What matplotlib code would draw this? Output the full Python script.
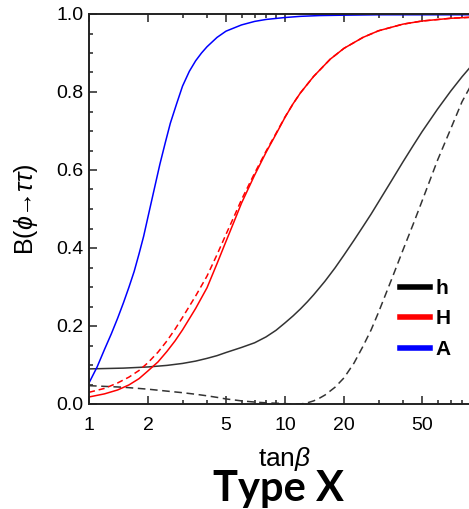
import numpy as np
import matplotlib
matplotlib.use("Agg")
import matplotlib.pyplot as plt
from matplotlib.ticker import FixedLocator, NullFormatter, FixedFormatter, FormatStrFormatter
from matplotlib.lines import Line2D

plt.rcParams['font.family'] = ['Liberation Sans', 'DejaVu Sans']
plt.rcParams['mathtext.fontset'] = 'custom'
plt.rcParams['mathtext.rm'] = 'Liberation Sans'
plt.rcParams['mathtext.it'] = 'Liberation Sans:italic'

# ---- data ----
# h (black): solid and dashed
tanb_h = [1, 1.5, 2, 2.5, 3, 3.5, 4, 4.5, 5, 6, 7, 8, 9, 10, 11, 12, 13, 14, 15, 16,
          18, 20, 22.5, 25, 27.5, 30, 35, 40, 45, 50, 60, 70, 80, 90, 100]
br_h_solid = [0.090, 0.092, 0.095, 0.099, 0.104, 0.110, 0.117, 0.124, 0.132, 0.145,
              0.157, 0.172, 0.189, 0.208, 0.226, 0.244, 0.262, 0.280, 0.298, 0.315,
              0.349, 0.382, 0.420, 0.455, 0.487, 0.518, 0.573, 0.621, 0.662, 0.698,
              0.756, 0.802, 0.839, 0.869, 0.893]
br_h_dash = [0.047, 0.043, 0.038, 0.033, 0.029, 0.025, 0.021, 0.017, 0.013, 0.008,
             0.005, 0.003, 0.002, 0.001, 0.000, 0.000, 0.003, 0.008, 0.015, 0.023,
             0.043, 0.067, 0.105, 0.148, 0.190, 0.235, 0.320, 0.395, 0.460, 0.520,
             0.625, 0.705, 0.775, 0.822, 0.860]

# H (red): solid and dashed
tanb_H = [1, 1.2, 1.4, 1.6, 1.8, 2, 2.25, 2.5, 2.75, 3, 3.5, 4, 4.5, 5, 5.5, 6, 7, 8,
          9, 10, 11, 12, 14, 17, 20, 25, 30, 40, 50, 70, 100]
br_H_solid = [0.018, 0.026, 0.036, 0.049, 0.065, 0.085, 0.108, 0.135, 0.162, 0.190,
              0.245, 0.298, 0.360, 0.417, 0.468, 0.515, 0.587, 0.645, 0.692, 0.735,
              0.770, 0.798, 0.840, 0.884, 0.912, 0.940, 0.957, 0.974, 0.982, 0.989,
              0.993]
br_H_dash = [0.030, 0.040, 0.054, 0.069, 0.086, 0.106, 0.133, 0.162, 0.192, 0.222,
             0.277, 0.328, 0.383, 0.435, 0.481, 0.524, 0.592, 0.648, 0.694, 0.736,
             0.770, 0.798, 0.840, 0.884, 0.912, 0.940, 0.957, 0.974, 0.982, 0.989,
             0.993]

# A (blue)
tanb_A = [1, 1.1, 1.2, 1.3, 1.4, 1.5, 1.6, 1.7, 1.8, 1.9, 2.0, 2.15, 2.3, 2.45, 2.6,
          2.8, 3.0, 3.25, 3.5, 3.75, 4.0, 4.5, 5, 6, 7, 8, 10, 12, 15, 20, 30, 50, 100]
br_A = [0.054, 0.095, 0.140, 0.180, 0.220, 0.260, 0.300, 0.340, 0.385, 0.430,
        0.480, 0.550, 0.615, 0.670, 0.720, 0.770, 0.815, 0.853, 0.880, 0.900,
        0.916, 0.940, 0.956, 0.972, 0.981, 0.986, 0.991, 0.994, 0.996, 0.997,
        0.998, 0.998, 0.998]

legend_labels = ['h', 'H', 'A']
legend_colors = ['black', 'red', 'blue']

x_major = [1, 2, 5, 10, 20, 50, 100]
x_major_labels = ['1', '2', '5', '10', '20', '50', '']
x_minor = [3, 4, 6, 7, 8, 9, 30, 40, 60, 70, 80, 90]

# ---- figure ----
fig = plt.figure(figsize=(4.69, 5.09), dpi=100)
# axes runs past the right edge of the picture (up to tanb = 100)
ax = fig.add_axes([89 / 469, 1 - 404 / 509, 392 / 469, 390 / 509])

lw = 1.1
ax.plot(tanb_h, br_h_solid, color='#333333', lw=lw)
ax.plot(tanb_h, br_h_dash, color='#333333', lw=lw, dashes=(5, 3))
ax.plot(tanb_H, br_H_solid, color='red', lw=lw)
ax.plot(tanb_H, br_H_dash, color='red', lw=lw, dashes=(4, 2.5))
ax.plot(tanb_A, br_A, color='blue', lw=lw)

ax.set_xscale('log')
ax.set_xlim(1, 100)
ax.set_ylim(0, 1)

ax.xaxis.set_major_locator(FixedLocator(x_major))
ax.xaxis.set_major_formatter(FixedFormatter(x_major_labels))
ax.xaxis.set_minor_locator(FixedLocator(x_minor))
ax.xaxis.set_minor_formatter(NullFormatter())
ax.yaxis.set_major_locator(FixedLocator(np.arange(0, 1.01, 0.2)))
ax.yaxis.set_minor_locator(FixedLocator(np.arange(0, 1.01, 0.05)))
ax.yaxis.set_major_formatter(FormatStrFormatter('%.1f'))

ax.tick_params(which='both', direction='in', top=True, right=True,
               color='#222222', width=1.1)
ax.tick_params(which='major', length=5.5, labelsize=14)
ax.tick_params(which='minor', length=2.8)
ax.tick_params(axis='x', which='major', pad=9)
ax.tick_params(axis='y', which='major', pad=4)

for sp in ax.spines.values():
    sp.set_linewidth(1.4)
    sp.set_color('#222222')

ax.set_xlabel(r'tan$\mathit{\beta}$', fontsize=19)
ax.xaxis.set_label_coords(0.5, -0.105)
ax.set_ylabel(r'B($\phi$→$\tau\tau$)', fontsize=18)
ax.yaxis.set_label_coords(-0.125, 0.5)

handles = [Line2D([], [], color=c, lw=4) for c in legend_colors]
ax.legend(handles, legend_labels, loc='center left',
          bbox_to_anchor=((400 - 89) / 392, (404 - 319) / 390),
          frameon=False, borderpad=0, borderaxespad=0, handlelength=1.45,
          handletextpad=0.25, labelspacing=0.55,
          prop={'weight': 'bold', 'size': 15})

fig.text(278 / 469, 1 - 501 / 509, 'Type X', ha='center', va='baseline',
         fontsize=30, fontweight='bold', family='Lato')

fig.savefig('out.png', dpi=100)
